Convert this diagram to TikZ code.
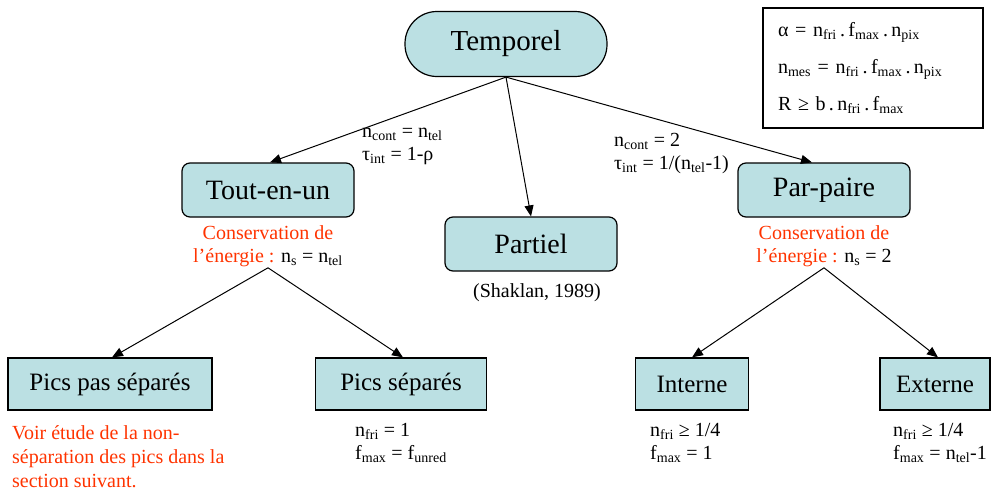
\documentclass[tikz,border=0pt]{standalone}
\usepackage{fontspec}
\setmainfont{Liberation Serif}
\usetikzlibrary{positioning, arrows.meta}

\definecolor{boxfill}{RGB}{187,224,227}
\definecolor{notered}{RGB}{255,51,0}
\newcommand{\lo}[1]{\textsubscript{#1}}

\begin{document}
\begin{tikzpicture}[
    x=1pt,
    y=-1pt,
    >={Triangle[length=11pt,width=9pt]},
    every node/.style={font=\fontsize{20}{23}\selectfont},
    topbox/.style={draw, line width=1.2pt, fill=boxfill, rounded corners=32pt,
        minimum width=202pt, minimum height=65pt, font=\fontsize{29}{32}\selectfont},
    midbox/.style={draw, line width=1.2pt, fill=boxfill, rounded corners=8pt,
        minimum width=172pt, minimum height=54pt, font=\fontsize{28}{30}\selectfont},
    leafbox/.style={draw, line width=1.2pt, fill=boxfill,
        minimum height=52pt, font=\fontsize{25}{27}\selectfont},
    link/.style={->, line width=1pt},
    note/.style={text=notered, align=center, inner sep=1pt}
]
\useasboundingbox (0,0) rectangle (994,498);

%---------------- Root ----------------
\node[topbox] (temp) at (506,44) {Temporel};

%---------------- Second level ----------------
\node[midbox] (tout) at (268,190) {Tout-en-un};
\node[midbox] (part) at (531,244) {Partiel};
\node[midbox] (pair) at (824,190) {Par-paire};

\node[note] (consL) at (268,246) {Conservation de\\l'énergie : \textcolor{black}{n\lo{s} = n\lo{tel}}};
\node[note] (consR) at (824,246) {Conservation de\\l'énergie : \textcolor{black}{n\lo{s} = 2}};
\node (shak) at (537,293) {(Shaklan, 1989)};

\node[anchor=north west, align=left, inner sep=0pt] (labL) at (362,128)
    {n\lo{cont} = n\lo{tel}\\τ\lo{int} = 1-ρ};
\node[anchor=north west, align=left, inner sep=0pt] (labR) at (614,133)
    {n\lo{cont} = 2\\τ\lo{int} = 1/(n\lo{tel}-1)};

%---------------- Leaves ----------------
\foreach \name/\x/\w/\lab in {pps/110/204/{Pics pas séparés}, ps/401/171/{Pics séparés},
                               int/692/113/{Interne}, ext/935/110/{Externe}} {
    \node[leafbox, minimum width=\w pt] (\name) at (\x,384) {\lab};
}

\node[anchor=north west, align=left, text=notered, inner sep=0pt,
      font=\fontsize{20}{24}\selectfont] (voir) at (12,425)
    {Voir étude de la non-\\séparation des pics dans la\\section suivant.};
\foreach \name/\x/\la/\lb in {vps/355/{n\lo{fri} = 1}/{f\lo{max} = f\lo{unred}},
                              vint/650/{n\lo{fri} ≥ 1/4}/{f\lo{max} = 1},
                              vext/893/{n\lo{fri} ≥ 1/4}/{f\lo{max} = n\lo{tel}-1}} {
    \node[anchor=north west, align=left, inner sep=0pt] (\name) at (\x,423) {\la\\\lb};
}

%---------------- Formula box ----------------
\node[draw, line width=1.2pt, minimum width=220pt, minimum height=120pt,
      text width=190pt, inner xsep=15pt, align=left,
      font=\fontsize{20}{37}\selectfont] (form) at (873,68)
    {α = n\lo{fri}\,.\,f\lo{max}\,.\,n\lo{pix}\\
     n\lo{mes} = n\lo{fri}\,.\,f\lo{max}\,.\,n\lo{pix}\\
     R ≥ b\,.\,n\lo{fri}\,.\,f\lo{max}};

%---------------- Connections ----------------
\draw[link] (temp.south) -- ([xshift=2pt]tout.north);
\draw[link] (temp.south) -- (part.north);
\draw[link] (temp.south) -- ([xshift=-12pt]pair.north);

\draw[link] (consL.south) -- ([xshift=2pt]pps.north);
\draw[link] (consL.south) -- ([xshift=2pt]ps.north);
\draw[link] (consR.south) -- (int.north);
\draw[link] (consR.south) -- ([xshift=3pt]ext.north);
\end{tikzpicture}
\end{document}
